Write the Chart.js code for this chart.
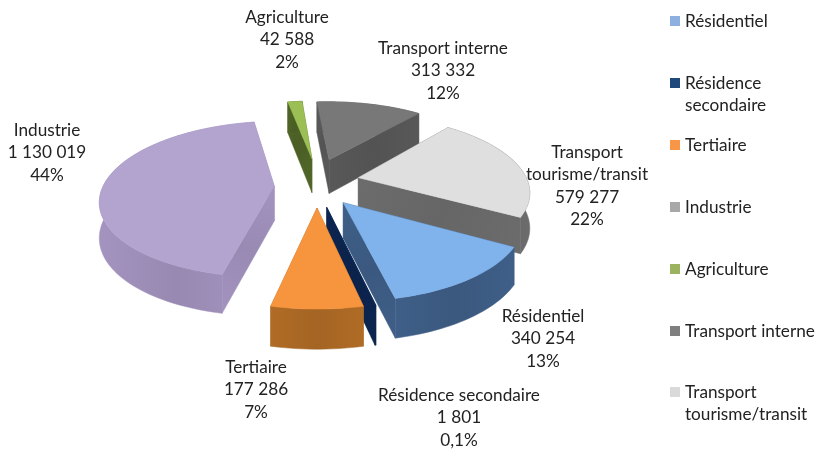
<!DOCTYPE html>
<html lang="fr">
<head>
<meta charset="utf-8">
<title>Consommation par secteur</title>
<script src="https://cdn.jsdelivr.net/npm/chart.js@4/dist/chart.umd.js"></script>
<style>
  html, body { margin: 0; padding: 0; background: #fff; }
  canvas { display: block; }
</style>
</head>
<body>
<canvas id="pie" width="816" height="450"></canvas>
<script>
// Sector figures
const categories = ['Résidentiel', 'Résidence secondaire', 'Tertiaire', 'Industrie', 'Agriculture', 'Transport interne', 'Transport tourisme/transit'];
const values = [340254, 1801, 177286, 1130019, 42588, 313332, 579277];
const percents = ['13%', '0,1%', '7%', '44%', '2%', '12%', '22%'];

// Colours per sector
const topColors = ['#80B2EC', '#0E2A5A', '#F7953F', '#B3A3CF', '#9CBF55', '#787878', '#DFDFDF'];
const wallColors = ['#3F5F88', '#0C2550', '#B06C26', '#A393BF', '#4F6427', '#585858', '#6C6C6C'];
const legendColors = ['#8DB0E0', '#1F497D', '#F79646', '#A8A8A8', '#9BB35F', '#7F7F7F', '#D9D9D9'];

// Text wrapping and placement of the captions
const labelLines = [['Résidentiel'], ['Résidence secondaire'], ['Tertiaire'], ['Industrie'], ['Agriculture'], ['Transport interne'], ['Transport', 'tourisme/transit']];
const labelCenters = [[543, 316], [459, 395], [256, 367], [47, 130], [287, 17], [443, 48], [587, 152]];
const legendLines = [['Résidentiel'], ['Résidence', 'secondaire'], ['Tertiaire'], ['Industrie'], ['Agriculture'], ['Transport interne'], ['Transport', 'tourisme/transit']];
const legendRowTops = [21, 83, 145, 207, 269, 331, 392];

// Camera and solid settings, in units of the pie radius
const VIEW_DIST = 6.01, FOCAL = 1019 / 182, TILT = 447 / 182;
const DEPTH = 348 / 182, DEPTH_DIST = 10;
const EXPLODE_X = 0.25, EXPLODE_Y = 0.33;
// The widest slice sits slightly nearer the viewer than its neighbours
const sliceDrift = [0, 0, 0, 0.06, 0, 0, 0];
const FONT = '17.2px Lato, sans-serif';
const LINE = 22.5;

function formatValue(v) {
  return String(v).replace(/\B(?=(\d{3})+$)/g, ' ');
}

function drawPoly(ctx, pts, fill) {
  ctx.beginPath();
  pts.forEach((p, i) => i ? ctx.lineTo(p[0], p[1]) : ctx.moveTo(p[0], p[1]));
  ctx.closePath();
  ctx.fillStyle = fill;
  ctx.fill();
  ctx.strokeStyle = fill;
  ctx.lineWidth = 0.5;
  ctx.stroke();
}

function shade(ctx, x0, y0, x1, y1, stops) {
  const g = ctx.createLinearGradient(x0, y0, x1, y1);
  stops.forEach((c, i) => g.addColorStop(i / (stops.length - 1), c));
  return g;
}

function darker(hex, f) {
  const n = parseInt(hex.slice(1), 16);
  const c = [n >> 16, (n >> 8) & 255, n & 255].map(v => Math.round(v * f));
  return `rgb(${c[0]},${c[1]},${c[2]})`;
}

// Exploded perspective pie built from the arc angles the controller computes
const solidPie = {
  id: 'solidPie',
  beforeDatasetsDraw(chart) {
    const ctx = chart.ctx;
    const arcs = chart.getDatasetMeta(0).data;
    const order = arcs.map((el, i) => {
      const mid = (el.startAngle + el.endAngle) / 2;
      return { el, i, mid, ox: Math.cos(mid) * EXPLODE_X, oy: Math.sin(mid) * EXPLODE_Y + sliceDrift[i] };
    }).sort((a, b) => a.oy - b.oy);

    order.forEach(({ el, i, ox, oy }) => {
      const R = el.outerRadius;
      const top = (gx, gy) => {
        const w = VIEW_DIST - gy;
        return [el.x + R * gx * FOCAL / w, el.y + R * gy * TILT / w];
      };
      const low = (gx, gy) => {
        const p = top(gx, gy);
        return [p[0], p[1] + R * DEPTH * (1 / (DEPTH_DIST - gy))];
      };
      const rimAt = a => [ox + Math.cos(a), oy + Math.sin(a)];

      const steps = Math.max(2, Math.ceil((el.endAngle - el.startAngle) / 0.03));
      const rim = [];
      for (let s = 0; s <= steps; s++) {
        rim.push(rimAt(el.startAngle + (el.endAngle - el.startAngle) * s / steps));
      }

      // Radial walls, the far one first
      const first = rim[0], last = rim[rim.length - 1];
      const walls = [first, last].sort((a, b) => a[1] - b[1]);
      walls.forEach(edge => {
        const a = top(ox, oy), b = top(edge[0], edge[1]);
        const c = low(edge[0], edge[1]), d = low(ox, oy);
        drawPoly(ctx, [a, b, c, d], shade(ctx, a[0], a[1], c[0], c[1],
          [darker(wallColors[i], 1.0), darker(wallColors[i], 0.94), darker(wallColors[i], 1.0)]));
      });

      // Curved outer wall
      const xs = rim.map(p => top(p[0], p[1])[0]);
      const x0 = Math.min(...xs), x1 = Math.max(...xs);
      const outer = rim.map(p => top(p[0], p[1])).concat(rim.slice().reverse().map(p => low(p[0], p[1])));
      drawPoly(ctx, outer, shade(ctx, x0, 0, x1, 0,
        [wallColors[i], darker(wallColors[i], 0.93), wallColors[i]]));

      // Top face
      const face = [top(ox, oy)].concat(rim.map(p => top(p[0], p[1])));
      drawPoly(ctx, face, topColors[i]);
    });
    return false;
  },
  afterDraw(chart) {
    const ctx = chart.ctx;
    ctx.save();
    ctx.font = FONT;
    ctx.fillStyle = '#222222';
    ctx.textBaseline = 'middle';

    // Captions beside the slices
    ctx.textAlign = 'center';
    categories.forEach((_, i) => {
      const rows = labelLines[i].concat([formatValue(values[i]), percents[i]]);
      rows.forEach((t, r) => ctx.fillText(t, labelCenters[i][0], labelCenters[i][1] + r * LINE));
    });

    // Key on the right
    ctx.textAlign = 'left';
    categories.forEach((_, i) => {
      const y = legendRowTops[i];
      ctx.fillStyle = legendColors[i];
      ctx.fillRect(670, y - 5, 10, 10);
      ctx.fillStyle = '#222222';
      legendLines[i].forEach((t, r) => ctx.fillText(t, 685, y + r * LINE));
    });
    ctx.restore();
  }
};

new Chart(document.getElementById('pie'), {
  type: 'pie',
  data: {
    labels: categories,
    datasets: [{ data: values, backgroundColor: topColors, borderWidth: 0, hoverOffset: 0 }]
  },
  options: {
    responsive: false,
    animation: false,
    rotation: 120,
    layout: { padding: { left: 0, right: 182, top: 0, bottom: 86 } },
    plugins: { legend: { display: false }, tooltip: { enabled: false } }
  },
  plugins: [solidPie]
});
</script>
</body>
</html>
